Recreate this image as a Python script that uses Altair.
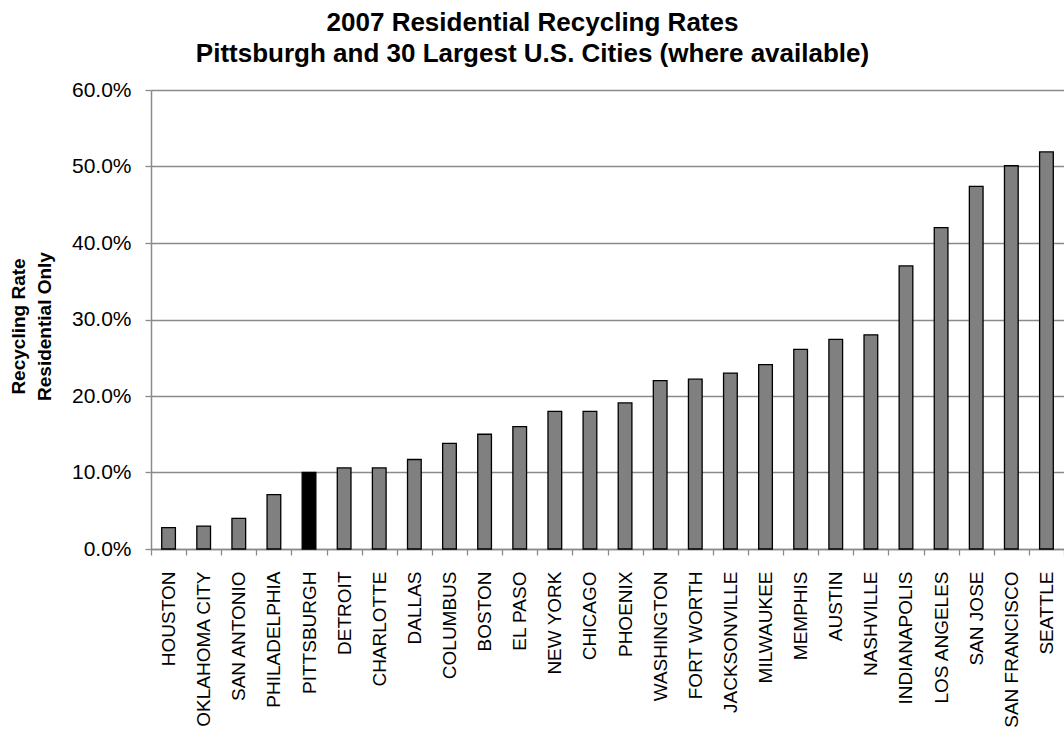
import altair as alt
import pandas as pd

# 2007 residential recycling rates (share of residential waste recycled)
cities = [
    "HOUSTON", "OKLAHOMA CITY", "SAN ANTONIO", "PHILADELPHIA", "PITTSBURGH",
    "DETROIT", "CHARLOTTE", "DALLAS", "COLUMBUS", "BOSTON", "EL PASO",
    "NEW YORK", "CHICAGO", "PHOENIX", "WASHINGTON", "FORT WORTH",
    "JACKSONVILLE", "MILWAUKEE", "MEMPHIS", "AUSTIN", "NASHVILLE",
    "INDIANAPOLIS", "LOS ANGELES", "SAN JOSE", "SAN FRANCISCO", "SEATTLE",
]
rates = [
    0.028, 0.030, 0.040, 0.071, 0.100,
    0.106, 0.106, 0.117, 0.138, 0.150, 0.160,
    0.180, 0.180, 0.191, 0.220, 0.222,
    0.230, 0.241, 0.261, 0.274, 0.280,
    0.370, 0.420, 0.474, 0.501, 0.519,
]
y_ticks = [0.0, 0.1, 0.2, 0.3, 0.4, 0.5, 0.6]
highlight = "PITTSBURGH"

df = pd.DataFrame({"city": cities, "rate": rates})

FONT = "Liberation Sans"
GRID = "#8a8a8a"

bars = alt.Chart(df).mark_bar(
    width=alt.RelativeBandSize(0.39),
    stroke="black",
    strokeWidth=1.3,
).encode(
    x=alt.X(
        "city:N",
        sort=None,
        scale=alt.Scale(paddingInner=0, paddingOuter=0),
        axis=alt.Axis(
            title=None,
            labelAngle=-90,
            labelAlign="right",
            labelBaseline="middle",
            labelFont=FONT,
            labelFontSize=19,
            labelColor="black",
            labelPadding=16,
            tickBand="extent",
            ticks=True,
            tickSize=6,
            tickColor=GRID,
            tickWidth=1.3,
            domainColor=GRID,
            domainWidth=1.3,
            grid=False,
            labelOverlap=False,
        ),
    ),
    y=alt.Y(
        "rate:Q",
        scale=alt.Scale(domain=[0, 0.6], nice=False),
        axis=alt.Axis(
            title=["Recycling Rate", "Residential Only"],
            titleFont=FONT,
            titleFontSize=19,
            titleFontWeight="bold",
            titleColor="black",
            titleAngle=-90,
            titleAlign="center",
            titleBaseline="alphabetic",
            titleLineHeight=26,
            titleX=-127,
            titleY=236,
            values=y_ticks,
            format=".1%",
            labelFont=FONT,
            labelFontSize=21,
            labelColor="black",
            labelPadding=14,
            tickSize=6,
            tickColor=GRID,
            tickWidth=1.3,
            domainColor=GRID,
            domainWidth=1.5,
            grid=True,
            gridColor=GRID,
            gridWidth=1.3,
        ),
    ),
    fill=alt.condition(
        alt.datum.city == highlight, alt.value("black"), alt.value("#808080")
    ),
)

chart = bars.properties(
    width=913,
    height=459,
    padding={"left": 151, "top": 90, "right": 0, "bottom": 189},
    autosize=alt.AutoSizeParams(type="none"),
    title=alt.TitleParams(
        text=[
            "2007 Residential Recycling Rates",
            "Pittsburgh and 30 Largest U.S. Cities (where available)",
        ],
        font=FONT,
        fontSize=26,
        fontWeight="bold",
        color="black",
        anchor="middle",
        frame="group",
        dx=-75,
        offset=12,
        lineHeight=31,
    ),
).configure_view(strokeWidth=0).configure(background="white")

chart.save("out.html", embed_options={"renderer": "svg", "actions": False})
